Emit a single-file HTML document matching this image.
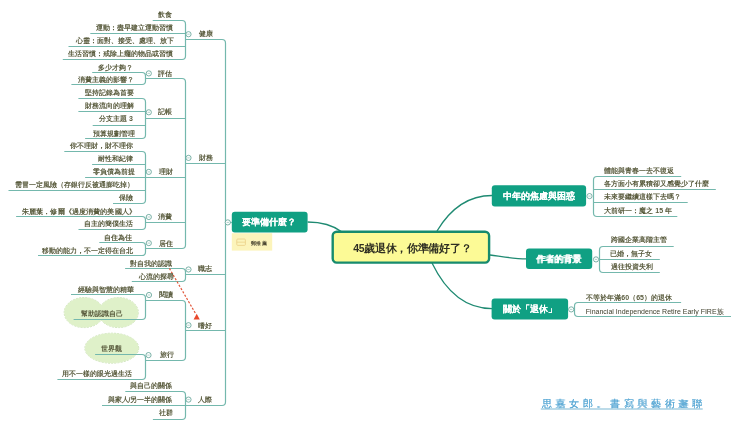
<!DOCTYPE html>
<html><head><meta charset="utf-8"><style>
html,body{margin:0;padding:0;background:#fff;width:740px;height:428px;overflow:hidden}
body{position:relative;font-family:"Liberation Sans",sans-serif}
#wrap{position:absolute;left:0;top:0;width:740px;height:428px;filter:blur(0.3px)}
.t{position:absolute;font-size:7px;line-height:10px;white-space:nowrap;color:#5a5c3e;font-weight:bold}
.bx{position:absolute;font-size:9px;line-height:12px;white-space:nowrap;color:#fff;font-weight:bold;text-shadow:0.25px 0 0 #fff}
.ct{position:absolute;font-size:10.5px;letter-spacing:-0.3px;line-height:14px;white-space:nowrap;color:#2e2e22;font-weight:bold}
.nt{position:absolute;font-size:5px;line-height:7px;letter-spacing:0.5px;white-space:nowrap;color:#4a4530;font-weight:bold;left:250.5px;top:239.8px}
.wm{position:absolute;left:541.5px;top:397.8px;font-family:"Liberation Serif",serif;font-size:10px;line-height:12px;letter-spacing:3.67px;color:#5eabd6;white-space:nowrap;text-shadow:0.4px 0 0 #5eabd6}
</style></head><body><div id="wrap">
<svg width="740" height="428" style="position:absolute;left:0;top:0"><ellipse cx="84" cy="312.6" rx="19.8" ry="15" fill="none" stroke="#c4ddb0" stroke-width="0.9" stroke-dasharray="2 1.2"/><ellipse cx="118.5" cy="312.6" rx="19.8" ry="15" fill="none" stroke="#c4ddb0" stroke-width="0.9" stroke-dasharray="2 1.2"/><ellipse cx="111.8" cy="348.2" rx="26.9" ry="15" fill="none" stroke="#c4ddb0" stroke-width="0.9" stroke-dasharray="2 1.2"/><ellipse cx="84" cy="312.6" rx="19.8" ry="15" fill="#dff1c9"/><ellipse cx="118.5" cy="312.6" rx="19.8" ry="15" fill="#dff1c9"/><ellipse cx="111.8" cy="348.2" rx="26.9" ry="15" fill="#dff1c9"/><path d="M185.5 39.5H222Q225.5 39.5 225.5 43" fill="none" stroke="#74b8ad" stroke-width="1.2" /><path d="M185.5 163.5H225.5" fill="none" stroke="#74b8ad" stroke-width="1.2" /><path d="M185.5 274.5H225.5" fill="none" stroke="#74b8ad" stroke-width="1.2" /><path d="M185.5 330.5H225.5" fill="none" stroke="#74b8ad" stroke-width="1.2" /><path d="M185.5 405.5H222Q225.5 405.5 225.5 402" fill="none" stroke="#74b8ad" stroke-width="1.2" /><path d="M225.5 43V402" fill="none" stroke="#74b8ad" stroke-width="1.2" /><path d="M225.5 222.5H231.8" fill="none" stroke="#74b8ad" stroke-width="1.2" /><path d="M152.7 20.5H182Q185.5 20.5 185.5 24" fill="none" stroke="#74b8ad" stroke-width="1.2" /><path d="M90.3 33.5H185.5" fill="none" stroke="#74b8ad" stroke-width="1.2" /><path d="M68.5 46.5H185.5" fill="none" stroke="#74b8ad" stroke-width="1.2" /><path d="M62.8 59.5H182Q185.5 59.5 185.5 56" fill="none" stroke="#74b8ad" stroke-width="1.2" /><path d="M185.5 24V56" fill="none" stroke="#74b8ad" stroke-width="1.2" /><path d="M146 78.5H182Q185.5 78.5 185.5 82" fill="none" stroke="#74b8ad" stroke-width="1.2" /><path d="M146 118.5H185.5" fill="none" stroke="#74b8ad" stroke-width="1.2" /><path d="M146 177.5H185.5" fill="none" stroke="#74b8ad" stroke-width="1.2" /><path d="M146 222.5H185.5" fill="none" stroke="#74b8ad" stroke-width="1.2" /><path d="M146 248.5H182Q185.5 248.5 185.5 245" fill="none" stroke="#74b8ad" stroke-width="1.2" /><path d="M185.5 82V245" fill="none" stroke="#74b8ad" stroke-width="1.2" /><path d="M125.1 268.5H182Q185.5 268.5 185.5 272" fill="none" stroke="#74b8ad" stroke-width="1.2" /><path d="M131.8 281.5H182Q185.5 281.5 185.5 278" fill="none" stroke="#74b8ad" stroke-width="1.2" /><path d="M185.5 272V278" fill="none" stroke="#74b8ad" stroke-width="1.2" /><path d="M146 300.5H182Q185.5 300.5 185.5 304" fill="none" stroke="#74b8ad" stroke-width="1.2" /><path d="M146 360.5H182Q185.5 360.5 185.5 357" fill="none" stroke="#74b8ad" stroke-width="1.2" /><path d="M185.5 304V357" fill="none" stroke="#74b8ad" stroke-width="1.2" /><path d="M125.3 391.5H182Q185.5 391.5 185.5 395" fill="none" stroke="#74b8ad" stroke-width="1.2" /><path d="M102 405.5H185.5" fill="none" stroke="#74b8ad" stroke-width="1.2" /><path d="M152.9 419.5H182Q185.5 419.5 185.5 416" fill="none" stroke="#74b8ad" stroke-width="1.2" /><path d="M185.5 395V416" fill="none" stroke="#74b8ad" stroke-width="1.2" /><path d="M92.2 72.5H142Q145.5 72.5 145.5 76" fill="none" stroke="#74b8ad" stroke-width="1.2" /><path d="M71.4 84.5H142Q145.5 84.5 145.5 81" fill="none" stroke="#74b8ad" stroke-width="1.2" /><path d="M145.5 76V81" fill="none" stroke="#74b8ad" stroke-width="1.2" /><path d="M78.4 98.5H142Q145.5 98.5 145.5 102" fill="none" stroke="#74b8ad" stroke-width="1.2" /><path d="M78.4 111.5H145.5" fill="none" stroke="#74b8ad" stroke-width="1.2" /><path d="M92.7 125.5H145.5" fill="none" stroke="#74b8ad" stroke-width="1.2" /><path d="M85.1 138.5H142Q145.5 138.5 145.5 135" fill="none" stroke="#74b8ad" stroke-width="1.2" /><path d="M145.5 102V135" fill="none" stroke="#74b8ad" stroke-width="1.2" /><path d="M64.3 151.5H142Q145.5 151.5 145.5 155" fill="none" stroke="#74b8ad" stroke-width="1.2" /><path d="M92.1 164.5H145.5" fill="none" stroke="#74b8ad" stroke-width="1.2" /><path d="M85.1 177.5H145.5" fill="none" stroke="#74b8ad" stroke-width="1.2" /><path d="M8.5 190.5H145.5" fill="none" stroke="#74b8ad" stroke-width="1.2" /><path d="M113 203.5H142Q145.5 203.5 145.5 200" fill="none" stroke="#74b8ad" stroke-width="1.2" /><path d="M145.5 155V200" fill="none" stroke="#74b8ad" stroke-width="1.2" /><path d="M16.1 216.5H142Q145.5 216.5 145.5 220" fill="none" stroke="#74b8ad" stroke-width="1.2" /><path d="M78.5 229.5H142Q145.5 229.5 145.5 226" fill="none" stroke="#74b8ad" stroke-width="1.2" /><path d="M145.5 220V226" fill="none" stroke="#74b8ad" stroke-width="1.2" /><path d="M99.3 242.5H142Q145.5 242.5 145.5 246" fill="none" stroke="#74b8ad" stroke-width="1.2" /><path d="M38 255.5H142Q145.5 255.5 145.5 252" fill="none" stroke="#74b8ad" stroke-width="1.2" /><path d="M145.5 246V252" fill="none" stroke="#74b8ad" stroke-width="1.2" /><path d="M71 294.5H142Q145.5 294.5 145.5 298" fill="none" stroke="#74b8ad" stroke-width="1.2" /><path d="M73.6 319.5H142Q145.5 319.5 145.5 316" fill="none" stroke="#74b8ad" stroke-width="1.2" /><path d="M145.5 298V316" fill="none" stroke="#74b8ad" stroke-width="1.2" /><path d="M95.1 354.5H142Q145.5 354.5 145.5 358" fill="none" stroke="#74b8ad" stroke-width="1.2" /><path d="M57.4 379.5H142Q145.5 379.5 145.5 376" fill="none" stroke="#74b8ad" stroke-width="1.2" /><path d="M145.5 358V376" fill="none" stroke="#74b8ad" stroke-width="1.2" /><path d="M681.2 176.5H597Q593.5 176.5 593.5 180" fill="none" stroke="#74b8ad" stroke-width="1.2" /><path d="M715.8 189.5H593.5" fill="none" stroke="#74b8ad" stroke-width="1.2" /><path d="M687.7 202.5H593.5" fill="none" stroke="#74b8ad" stroke-width="1.2" /><path d="M677.3 216.5H597Q593.5 216.5 593.5 213" fill="none" stroke="#74b8ad" stroke-width="1.2" /><path d="M593.5 180V213" fill="none" stroke="#74b8ad" stroke-width="1.2" /><path d="M673.7 246.5H603Q599.5 246.5 599.5 250" fill="none" stroke="#74b8ad" stroke-width="1.2" /><path d="M659.8 259.5H599.5" fill="none" stroke="#74b8ad" stroke-width="1.2" /><path d="M659.8 272.5H603Q599.5 272.5 599.5 269" fill="none" stroke="#74b8ad" stroke-width="1.2" /><path d="M599.5 250V269" fill="none" stroke="#74b8ad" stroke-width="1.2" /><path d="M681.1 302.5H578Q574.5 302.5 574.5 306" fill="none" stroke="#74b8ad" stroke-width="1.2" /><path d="M731 316.5H578Q574.5 316.5 574.5 313" fill="none" stroke="#74b8ad" stroke-width="1.2" /><path d="M574.5 306V313" fill="none" stroke="#74b8ad" stroke-width="1.2" /><path d="M307.6 222C322 222 334 226 342 232" fill="none" stroke="#1f8a72" stroke-width="1.3"/><path d="M437 231C452 206 470 195.5 492 195.5" fill="none" stroke="#1f8a72" stroke-width="1.3"/><path d="M490 255C505 257 515 258.8 526.5 258.8" fill="none" stroke="#1f8a72" stroke-width="1.3"/><path d="M432 263C448 296 468 308.6 492 308.6" fill="none" stroke="#1f8a72" stroke-width="1.3"/><rect x="231.8" y="211.7" width="75.8" height="20.7" rx="3" fill="#10a083"/><rect x="491.8" y="185.3" width="94.3" height="21.2" rx="3" fill="#10a083"/><rect x="526" y="248.5" width="66.2" height="20.5" rx="3" fill="#10a083"/><rect x="491.6" y="298.6" width="76.5" height="20.9" rx="3" fill="#10a083"/><rect x="332.7" y="231.7" width="156.4" height="30.9" rx="4" fill="#fcfa96" stroke="#168b6d" stroke-width="2.4"/><rect x="231.8" y="233.2" width="40.4" height="17.4" rx="0" fill="#fcf4bb"/><rect x="236.8" y="239" width="8.6" height="6.4" rx="1" fill="none" stroke="#ecd38c" stroke-width="0.9"/><path d="M236.8 242.2H245.4" stroke="#ecd38c" stroke-width="0.8"/><circle cx="188.5" cy="34.2" r="2.6" fill="#fff" stroke="#5a9e92" stroke-width="0.8"/><path d="M187.3 34.2H189.7" stroke="#8fbfb5" stroke-width="0.7"/><circle cx="188.5" cy="157.9" r="2.6" fill="#fff" stroke="#5a9e92" stroke-width="0.8"/><path d="M187.3 157.9H189.7" stroke="#8fbfb5" stroke-width="0.7"/><circle cx="188.5" cy="269.5" r="2.6" fill="#fff" stroke="#5a9e92" stroke-width="0.8"/><path d="M187.3 269.5H189.7" stroke="#8fbfb5" stroke-width="0.7"/><circle cx="188.5" cy="325.2" r="2.6" fill="#fff" stroke="#5a9e92" stroke-width="0.8"/><path d="M187.3 325.2H189.7" stroke="#8fbfb5" stroke-width="0.7"/><circle cx="188.5" cy="399.6" r="2.6" fill="#fff" stroke="#5a9e92" stroke-width="0.8"/><path d="M187.3 399.6H189.7" stroke="#8fbfb5" stroke-width="0.7"/><circle cx="227.8" cy="222.4" r="2.6" fill="#fff" stroke="#5a9e92" stroke-width="0.8"/><path d="M226.6 222.4H229" stroke="#8fbfb5" stroke-width="0.7"/><circle cx="148.8" cy="73.4" r="2.6" fill="#fff" stroke="#5a9e92" stroke-width="0.8"/><path d="M147.6 73.4H150" stroke="#8fbfb5" stroke-width="0.7"/><circle cx="148.8" cy="112.3" r="2.6" fill="#fff" stroke="#5a9e92" stroke-width="0.8"/><path d="M147.6 112.3H150" stroke="#8fbfb5" stroke-width="0.7"/><circle cx="148.8" cy="171.9" r="2.6" fill="#fff" stroke="#5a9e92" stroke-width="0.8"/><path d="M147.6 171.9H150" stroke="#8fbfb5" stroke-width="0.7"/><circle cx="148.8" cy="217" r="2.6" fill="#fff" stroke="#5a9e92" stroke-width="0.8"/><path d="M147.6 217H150" stroke="#8fbfb5" stroke-width="0.7"/><circle cx="148.8" cy="243.1" r="2.6" fill="#fff" stroke="#5a9e92" stroke-width="0.8"/><path d="M147.6 243.1H150" stroke="#8fbfb5" stroke-width="0.7"/><circle cx="149" cy="295" r="2.6" fill="#fff" stroke="#5a9e92" stroke-width="0.8"/><path d="M147.8 295H150.2" stroke="#8fbfb5" stroke-width="0.7"/><circle cx="148.5" cy="355.1" r="2.6" fill="#fff" stroke="#5a9e92" stroke-width="0.8"/><path d="M147.3 355.1H149.7" stroke="#8fbfb5" stroke-width="0.7"/><circle cx="589.5" cy="196.1" r="2.6" fill="#fff" stroke="#5a9e92" stroke-width="0.8"/><path d="M588.3 196.1H590.7" stroke="#8fbfb5" stroke-width="0.7"/><circle cx="596" cy="259.4" r="2.6" fill="#fff" stroke="#5a9e92" stroke-width="0.8"/><path d="M594.8 259.4H597.2" stroke="#8fbfb5" stroke-width="0.7"/><circle cx="571.2" cy="309.4" r="2.6" fill="#fff" stroke="#5a9e92" stroke-width="0.8"/><path d="M570 309.4H572.4" stroke="#8fbfb5" stroke-width="0.7"/><path d="M540.8 409H702.7" stroke="#a6cfe2" stroke-width="1.6"/><path d="M169.4 268.4L195.8 314" stroke="#e2573b" stroke-width="1.2" stroke-dasharray="2.2 1.6" fill="none"/><path d="M196.7 313.8L193.6 319.4L199.8 319.6Z" fill="#e9482c"/></svg>
<div class="t" id="L0" style="left:199px;top:29.49px">健康</div>
<div class="t" id="L1" style="left:199px;top:153.16px">財務</div>
<div class="t" id="L2" style="left:198px;top:264.21px">職志</div>
<div class="t" id="L3" style="left:197.5px;top:320.6px">嗜好</div>
<div class="t" id="L4" style="left:198px;top:394.85px">人際</div>
<div class="t" id="L5" style="left:158.4px;top:10.41px">飲食</div>
<div class="t" id="L6" style="left:95.9px;top:22.85px">運動：盡早建立運動習慣</div>
<div class="t" id="L7" style="left:76px;top:36.34px">心靈：面對、接受、處理、放下</div>
<div class="t" id="L8" style="left:67.5px;top:48.55px">生活習慣：戒除上癮的物品或習慣</div>
<div class="t" id="L9" style="left:158.4px;top:68.66px">評估</div>
<div class="t" id="L10" style="left:158.4px;top:107.44px">記帳</div>
<div class="t" id="L11" style="left:159.4px;top:167.46px">理財</div>
<div class="t" id="L12" style="left:158.4px;top:212.4px">消費</div>
<div class="t" id="L13" style="left:158.6px;top:238.59px">居住</div>
<div class="t" id="L14" style="left:130.2px;top:258.5px">對自我的認識</div>
<div class="t" id="L15" style="left:139.3px;top:271.54px">心流的探尋</div>
<div class="t" id="L16" style="left:158.6px;top:290.2px">閱讀</div>
<div class="t" id="L17" style="left:159.75px;top:350.25px">旅行</div>
<div class="t" id="L18" style="left:130.3px;top:381.25px">與自己的關係</div>
<div class="t" id="L19" style="left:107.5px;top:394.85px">與家人/另一半的關係</div>
<div class="t" id="L20" style="left:159.4px;top:408.46px">社群</div>
<div class="t" id="L21" style="left:98.45px;top:62.7px">多少才夠？</div>
<div class="t" id="L22" style="left:77.65px;top:75.2px">消費主義的影響？</div>
<div class="t" id="L23" style="left:84.5px;top:88.09px">堅持記錄為首要</div>
<div class="t" id="L24" style="left:84.5px;top:101.05px">財務流向的理解</div>
<div class="t" id="L25" style="left:99px;top:114.34px">分支主題 3</div>
<div class="t" id="L26" style="left:92.5px;top:128.55px">預算規劃管理</div>
<div class="t" id="L27" style="left:70.3px;top:141.1px">你不理財，財不理你</div>
<div class="t" id="L28" style="left:98.3px;top:154.4px">耐性和紀律</div>
<div class="t" id="L29" style="left:92.5px;top:166.61px">零負債為前提</div>
<div class="t" id="L30" style="left:15.35px;top:180.46px;transform:scaleX(1.0);transform-origin:100% 0">需冒一定風險（存銀行反被通膨吃掉）</div>
<div class="t" id="L31" style="left:119.2px;top:193.3px">保險</div>
<div class="t" id="L32" style="left:23.55px;top:206.55px;transform:scaleX(1.018);transform-origin:100% 0">朱麗葉．修爾《過度消費的美國人》</div>
<div class="t" id="L33" style="left:84.4px;top:219.1px">自主的簡僕生活</div>
<div class="t" id="L34" style="left:104.3px;top:232.66px">自住為佳</div>
<div class="t" id="L35" style="left:42.45px;top:245.64px">移動的能力，不一定得在台北</div>
<div class="t" id="L36" style="left:77.75px;top:284.56px">經驗與智慧的精華</div>
<div class="t" id="L37" style="left:81.4px;top:308.66px">幫助認識自己</div>
<div class="t" id="L38" style="left:101.4px;top:343.51px">世界觀</div>
<div class="t" id="L39" style="left:62.35px;top:368.5px">用不一樣的眼光過生活</div>
<div class="t" id="R0" style="left:604.3px;top:166.15px">體能與青春一去不復返</div>
<div class="t" id="R1" style="left:604.3px;top:179.36px">各方面小有累積卻又感覺少了什麼</div>
<div class="t" id="R2" style="left:604.3px;top:192.36px">未來要繼續這樣下去嗎？</div>
<div class="t" id="R3" style="left:604.3px;top:206.25px">大前研一：魔之 15 年</div>
<div class="t" id="R4" style="left:610.6px;top:235.45px">跨國企業高階主管</div>
<div class="t" id="R5" style="left:609.6px;top:248.66px">已婚，無子女</div>
<div class="t" id="R6" style="left:610.6px;top:261.69px">過往投資失利</div>
<div class="t" id="R7" style="left:586.35px;top:292.55px">不等於年滿60（65）的退休</div>
<div class="t" id="R8" style="left:585.85px;top:306.5px;font-weight:normal;color:#3e3e2a">Financial Independence Retire Early FIRE族</div>
<div class="bx" id="B0" style="left:241.95px;top:215.99px">要準備什麼？</div>
<div class="bx" id="B1" style="left:502.6px;top:189.94px">中年的焦慮與困惑</div>
<div class="bx" id="B2" style="left:536.25px;top:252.82px">作者的背景</div>
<div class="bx" id="B3" style="left:502.65px;top:303.35px">關於「退休」</div>
<div class="ct" id="C0" style="left:353.15px;top:240.66px">45歲退休，你準備好了？</div>
<div class="nt">郵推薦</div><div class="wm">思嘉女郎。書寫與藝術邂聯</div>
</div></body></html>
